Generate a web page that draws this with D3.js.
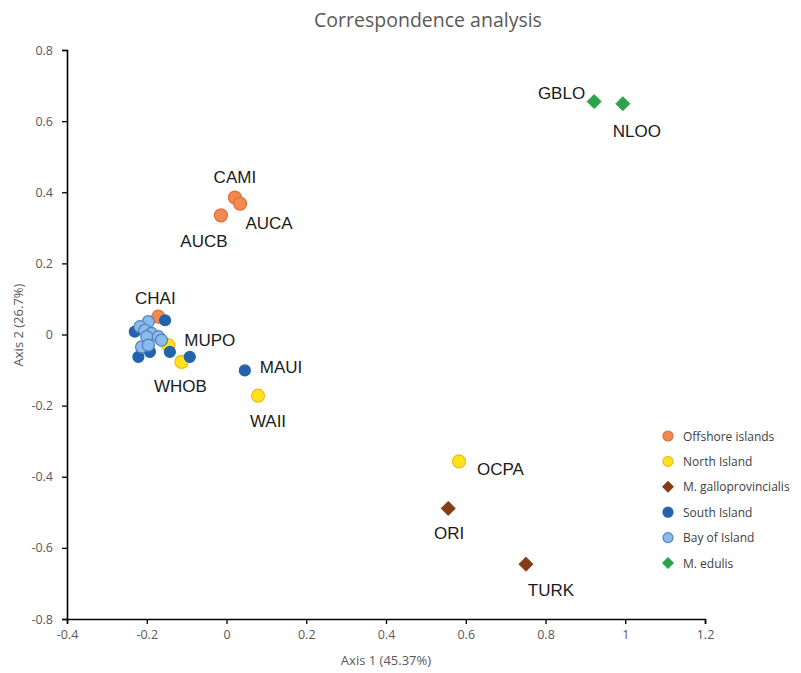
<!DOCTYPE html>
<html>
<head>
<meta charset="utf-8">
<script src="https://cdn.jsdelivr.net/npm/d3@7"></script>
<style>
  body { margin: 0; background: #fff; }
  svg { display: block; }
</style>
</head>
<body>
<svg id="chart" width="801" height="673"></svg>
<script>
// --- data ---
const xTicks = [-0.4, -0.2, 0, 0.2, 0.4, 0.6, 0.8, 1, 1.2]
const yTicks = [-0.8, -0.6, -0.4, -0.2, 0, 0.2, 0.4, 0.6, 0.8]

const groupNames = ['Offshore islands', 'North Island', 'M. galloprovincialis', 'South Island', 'Bay of Island', 'M. edulis']

// Offshore islands
const offshoreX = [0.021, 0.034, -0.014, -0.171]
const offshoreY = [0.385, 0.368, 0.335, 0.050]
const offshoreLabels = ['CAMI', 'AUCA', 'AUCB', 'CHAI']

// North Island
const northX = [-0.146, -0.113, 0.079, 0.583]
const northY = [-0.030, -0.077, -0.172, -0.357]
const northLabels = ['MUPO', 'WHOB', 'WAII', 'OCPA']

// M. galloprovincialis
const galloX = [0.556, 0.751]
const galloY = [-0.489, -0.646]
const galloLabels = ['ORI', 'TURK']

// South Island
const southX = [-0.154, -0.230, -0.192, -0.221, -0.142, -0.092, 0.046]
const southY = [0.040, 0.008, -0.049, -0.063, -0.049, -0.063, -0.101]
const southLabels = ['', '', '', '', '', '', 'MAUI']

// Bay of Island
const bayX = [-0.196, -0.217, -0.205, -0.188, -0.200, -0.171, -0.163, -0.213, -0.196]
const bayY = [0.036, 0.022, 0.012, 0.003, -0.006, -0.006, -0.016, -0.035, -0.030]

// M. edulis
const edulisX = [0.922, 0.994]
const edulisY = [0.655, 0.649]
const edulisLabels = ['GBLO', 'NLOO']

// --- styles / layout ---
const styles = {
  'Offshore islands':     { shape: 'circle', r: 6.5, fill: '#f4894f', stroke: '#e0703a' },
  'North Island':         { shape: 'circle', r: 6.5, fill: '#ffe21a', stroke: '#f2b81c' },
  'M. galloprovincialis': { shape: 'diamond', r: 7, fill: '#843c14', stroke: '#843c14' },
  'South Island':         { shape: 'circle', r: 5.5, fill: '#2463ac', stroke: '#2463ac' },
  'Bay of Island':        { shape: 'circle', r: 6, fill: '#8cbbea', stroke: '#4d82c4' },
  'M. edulis':            { shape: 'diamond', r: 7, fill: '#2ca24a', stroke: '#2ca24a' }
}

// label offsets in pixels from the marker: [dx, dy, anchor]
const labelPos = {
  CAMI: [0, -15, 'middle'], AUCA: [29, 25, 'middle'], AUCB: [-17, 32, 'middle'],
  CHAI: [-3, -13, 'middle'], MUPO: [16, 1, 'start'], WHOB: [-1, 30, 'middle'],
  MAUI: [15, 3, 'start'], WAII: [10, 31, 'middle'], OCPA: [18, 14, 'start'],
  ORI: [1, 31, 'middle'], TURK: [25, 32, 'middle'], GBLO: [-9, -3, 'end'],
  NLOO: [14, 33, 'middle']
}

const svg = d3.select('#chart')
const tickFont = '"Open Sans", sans-serif'
const grey = '#595959'

const xScale = d3.scaleLinear().domain([-0.4, 1.2]).range([67, 705])
const yScale = d3.scaleLinear().domain([-0.8, 0.8]).range([619, 50])

const fmt = d => String(+d.toFixed(1))

// title
svg.append('text')
  .attr('x', 428).attr('y', 27)
  .attr('text-anchor', 'middle')
  .style('font-family', tickFont).style('font-size', '19.5px')
  .style('fill', grey)
  .text('Correspondence analysis')

// axes
const yAxis = svg.append('g')
  .attr('transform', 'translate(67,0)')
  .call(d3.axisLeft(yScale).tickValues(yTicks).tickSize(5).tickPadding(9).tickFormat(fmt))
const xAxis = svg.append('g')
  .attr('transform', 'translate(0,619)')
  .call(d3.axisBottom(xScale).tickValues(xTicks).tickSize(5).tickPadding(6).tickFormat(fmt))

svg.selectAll('.domain').attr('stroke', '#000').attr('stroke-width', 1.6)
svg.selectAll('.tick line').attr('stroke', '#000').attr('stroke-width', 1.3)
svg.selectAll('.tick text')
  .style('font-family', tickFont).style('font-size', '12.5px').attr('fill', grey)

// axis titles
svg.append('text')
  .attr('x', 386).attr('y', 665)
  .attr('text-anchor', 'middle')
  .style('font-family', tickFont).style('font-size', '13px').style('fill', grey)
  .text('Axis 1 (45.37%)')
svg.append('text')
  .attr('transform', 'translate(23,325) rotate(-90)')
  .attr('text-anchor', 'middle')
  .style('font-family', tickFont).style('font-size', '13px').style('fill', grey)
  .text('Axis 2 (26.7%)')

// build point rows from the arrays
function rows(group, xs, ys, labels) {
  return xs.map((x, i) => ({ group, x, y: ys[i], label: labels ? labels[i] : '' }))
}
const series = [
  rows('Offshore islands', offshoreX, offshoreY, offshoreLabels),
  rows('North Island', northX, northY, northLabels),
  rows('M. galloprovincialis', galloX, galloY, galloLabels),
  rows('South Island', southX, southY, southLabels),
  rows('Bay of Island', bayX, bayY, null),
  rows('M. edulis', edulisX, edulisY, edulisLabels)
]

function drawMarker(sel, st) {
  if (st.shape === 'circle') {
    sel.append('circle').attr('r', st.r)
      .attr('fill', st.fill).attr('stroke', st.stroke).attr('stroke-width', 1.2)
  } else {
    const r = st.r
    sel.append('path').attr('d', `M0,${-r}L${r},0L0,${r}L${-r},0Z`)
      .attr('fill', st.fill).attr('stroke', st.stroke)
  }
}

const points = svg.append('g')
series.forEach(s => {
  s.forEach(d => {
    const g = points.append('g')
      .attr('transform', `translate(${xScale(d.x)},${yScale(d.y)})`)
    drawMarker(g, styles[d.group])
  })
})

// point labels
const labels = svg.append('g')
series.flat().filter(d => d.label).forEach(d => {
  const p = labelPos[d.label] || [0, -12, 'middle']
  labels.append('text')
    .attr('x', xScale(d.x) + p[0])
    .attr('y', yScale(d.y) + p[1])
    .attr('text-anchor', p[2])
    .style('font-family', '"Liberation Sans", Arial, sans-serif')
    .style('font-size', '17px')
    .style('fill', '#1a1a1a')
    .text(d.label)
})

// legend
const legend = svg.append('g').attr('transform', 'translate(668,436)')
groupNames.forEach((name, i) => {
  const st = styles[name]
  const row = legend.append('g').attr('transform', `translate(0,${i * 25.4})`)
  const small = Object.assign({}, st, { r: st.shape === 'circle' ? 5 : 5.5 })
  drawMarker(row, small)
  row.append('text')
    .attr('x', 15).attr('y', 4.5)
    .style('font-family', tickFont).style('font-size', '12px')
    .style('fill', '#404040')
    .text(name)
})
</script>
</body>
</html>
